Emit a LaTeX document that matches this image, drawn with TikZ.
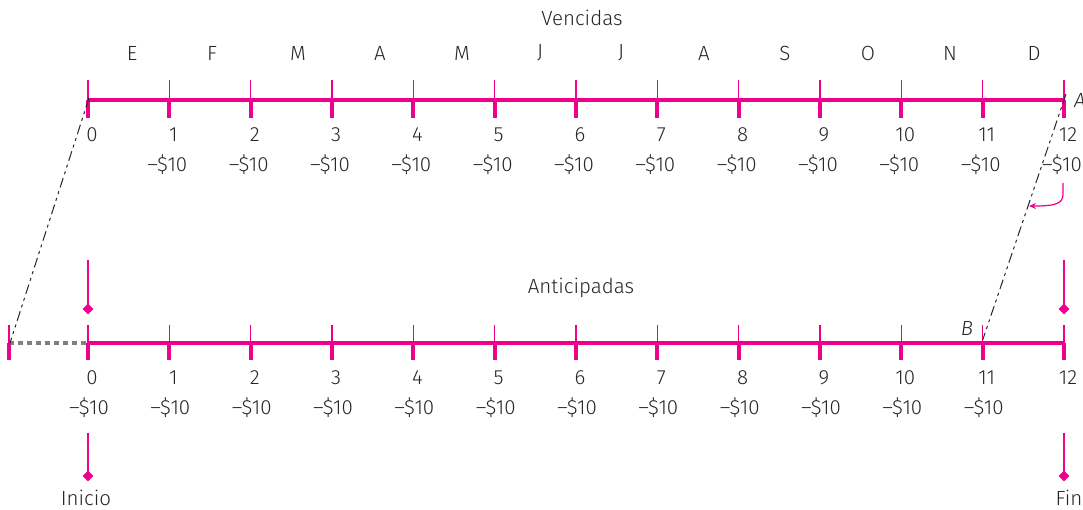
\documentclass[tikz,border=0pt]{standalone}
\usepackage{fontspec}
\setmainfont{Fira Sans}[UprightFont=* Light]
\usetikzlibrary{calc,shapes.geometric,arrows.meta}
\definecolor{mag}{RGB}{236,0,140}
\definecolor{dotgrey}{RGB}{128,128,128}
\begin{document}
\begin{tikzpicture}[x=1pt,y=-1pt,
  lbl/.style={font=\fontsize{20.5}{24}\selectfont, text=black!85, inner sep=0pt},
  ilbl/.style={lbl, font=\fontsize{20.5}{24}\selectfont\itshape},
  mainline/.style={draw=mag, line width=4pt},
  thintick/.style={draw=mag, line width=1.2pt},
  thicktick/.style={draw=mag, line width=4pt},
  guide/.style={draw=black!85, line width=1pt, dash pattern=on 10pt off 4pt on 3pt off 4pt on 3pt off 4pt},
  greydots/.style={draw=dotgrey, line width=3.5pt, dash pattern=on 5pt off 4pt},
  marker/.style={draw=mag, line width=2pt},
  dmd/.style={diamond, fill=mag, inner sep=0pt, minimum size=11pt},
  curl/.style={draw=mag, line width=1.2pt, -{Stealth[length=7pt,width=6pt]}}]
\useasboundingbox (0,0) rectangle (1083,509);
% axis coordinates
\foreach \i in {0,...,12} {
  \coordinate (t\i) at ({88+\i*81.333},100);
  \coordinate (b\i) at ({88+\i*81.333},343);
}
\coordinate (bL) at (9,343);
% top axis
\draw[mainline] (t0) -- (t12);
\foreach \i in {0,...,12} {
  \draw[thintick] ($(t\i)+(0,-20)$) -- (t\i);
  \draw[thicktick] (t\i) -- ($(t\i)+(0,18)$);
  \node[lbl] (tn\i) at ($(t\i)+(4,35)$) {\i};
}
\foreach \i in {1,...,12} {
  \node[lbl] (tv\i) at ($(t\i)+(-2,65)$) {–\$10};
}
\node[lbl] (vencidas) at (582,18) {Vencidas};
\foreach \m/\x [count=\k] in {E/132,F/212,M/298,A/380,M/462,J/540,J/621,A/704,S/785,O/868,N/950,D/1034} {
  \node[lbl] (mes\k) at (\x,53) {\m};
}
\node[ilbl, anchor=west] (A) at (1074,100) {A};
% bottom axis
\draw[greydots] (bL) -- (b0);
\draw[mainline] (b0) -- (b12);
\foreach \i in {0,...,12} {
  \draw[thintick] ($(b\i)+(0,-18)$) -- (b\i);
  \draw[thicktick] (b\i) -- ($(b\i)+(0,17)$);
  \node[lbl] (bn\i) at ($(b\i)+(4,35)$) {\i};
}
\draw[thintick] ($(bL)+(0,-18)$) -- (bL);
\draw[thicktick] (bL) -- ($(bL)+(0,17)$);
\foreach \i in {0,...,11} {
  \node[lbl] (bv\i) at ($(b\i)+(1,65)$) {–\$10};
}
\node[lbl] (anticipadas) at (581,288) {Anticipadas};
\node[ilbl] (B) at (967,328) {B};
% dashed guides
\draw[guide] ($(t0)+(1,-2)$) -- ($(bL)+(1,0)$);
\draw[guide] ($(t12)+(2,-6)$) -- ($(b11)+(0,-3)$);
% curved arrow
\coordinate (cs) at (1063,183);
\coordinate (ce) at (1029,206);
\draw[curl] (cs) -- (1063,194) .. controls (1063,204) and (1055,206) .. (ce);
% markers
\node[dmd] (d1) at (88,309) {};
\node[dmd] (d2) at (1064,309) {};
\node[dmd] (d3) at (88,476) {};
\node[dmd] (d4) at (1064,476) {};
\coordinate (m1) at (88,260);
\coordinate (m2) at (1064,260);
\coordinate (m3) at (88,433);
\coordinate (m4) at (1064,433);
\draw[marker] (m1) -- (d1.center);
\draw[marker] (m2) -- (d2.center);
\draw[marker] (m3) -- (d3.center);
\draw[marker] (m4) -- (d4.center);
\node[lbl] (inicio) at (86,498) {Inicio};
\node[lbl] (fin) at (1069,498) {Fin};
\end{tikzpicture}
\end{document}
